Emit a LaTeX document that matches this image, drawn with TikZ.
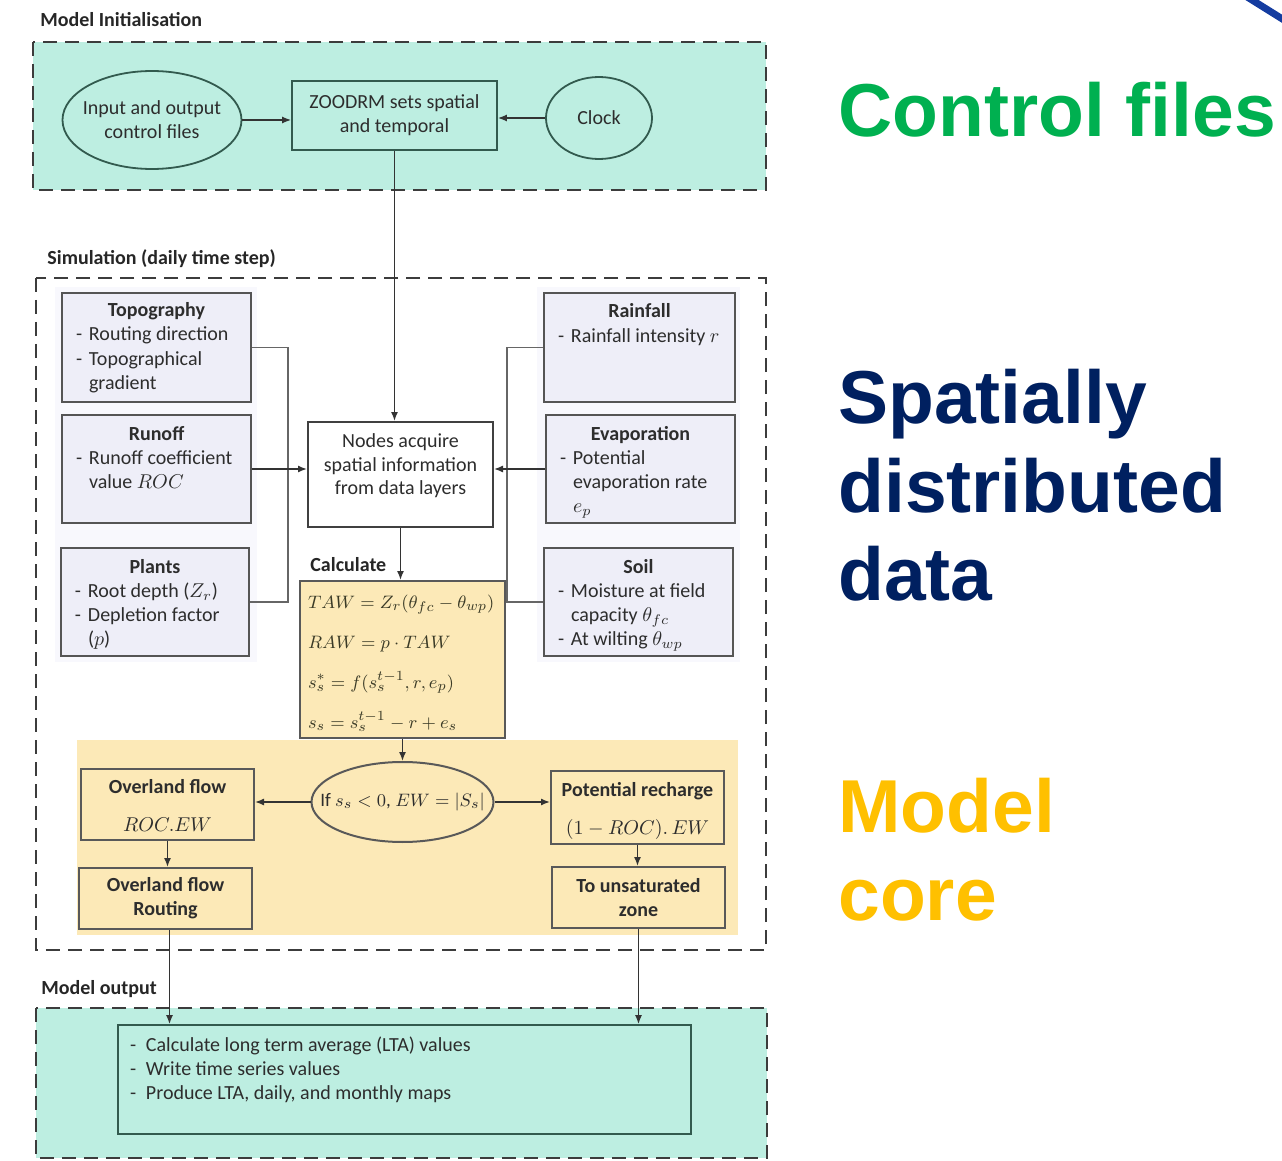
\documentclass[tikz,border=0pt]{standalone}
\usepackage{fontspec}
\setmainfont{Carlito}
\newfontfamily\bigfont{Liberation Sans}
\usetikzlibrary{arrows.meta,shapes.geometric}
\definecolor{mint}{RGB}{189,238,225}
\definecolor{lav}{RGB}{238,238,248}
\definecolor{lavpanel}{RGB}{248,248,253}
\definecolor{yel}{RGB}{252,233,183}
\definecolor{cgreen}{RGB}{0,176,80}
\definecolor{cnavy}{RGB}{0,32,96}
\definecolor{cgold}{RGB}{255,192,0}
\definecolor{cblue}{RGB}{20,60,160}
\definecolor{txt}{RGB}{45,45,45}
\definecolor{edge}{RGB}{85,85,85}
\definecolor{tealedge}{RGB}{50,90,78}
\definecolor{dashc}{RGB}{60,60,60}
\definecolor{mathc}{RGB}{58,58,38}
\newcommand\bx[4]{\parbox[c][#2][t]{#1}{\centering\rule{0pt}{#3}#4}}
\newcommand\ditem[2][6.5pt]{\par\hangindent=#1\hangafter=1\makebox[#1][l]{-}#2}
\newcommand\lst{\par\raggedright\leftskip=7pt\relax}
\begin{document}
\begin{tikzpicture}[x=0.5pt,y=-0.5pt,
  every node/.style={font=\fontsize{10}{12}\selectfont, text=txt},
  lbl/.style={anchor=base west, inner sep=0pt, font=\fontsize{10}{12}\selectfont\bfseries, text=black!85},
  lbox/.style={draw=edge, fill=lav, line width=1pt, inner sep=0pt},
  tbox/.style={draw=tealedge, line width=0.9pt, inner sep=0pt, align=center},
  ybox/.style={draw=black!65, fill=yel, line width=1pt, inner sep=0pt, align=center},
  dbox/.style={draw=dashc, line width=1pt, dash pattern=on 7pt off 4pt},
  conn/.style={draw=black!80, line width=0.7pt},
  arr/.style={conn, -{Latex[length=4.5pt,width=3.5pt]}},
  bus/.style={draw=black!60, line width=0.7pt},
  big/.style={anchor=base west, inner sep=0pt, font=\bigfont\bfseries\fontsize{37.5}{45}\selectfont}
]
\useasboundingbox (0,0) rectangle (1282,1161);
\fill[white] (0,0) rectangle (1282,1161);
\begin{scope}
\clip (0,0) rectangle (1282,1161);
\draw[cblue, line width=3.5pt] (1236,-10) -- (1300,30);
\end{scope}

% ---- Model initialisation
\node[lbl] (lInit) at (40,27) {Model Initialisation};
\filldraw[fill=mint, dbox] (33,42) rectangle (766,190);
\node[tbox, ellipse, fill=mint, inner xsep=-4pt, minimum width=89.5pt, minimum height=49pt] (io) at (152,120) {Input and output\\control files};
\node[tbox, fill=mint, minimum width=102.5pt, minimum height=34.5pt] (zoo) at (394.5,115.5) {ZOODRM sets spatial\\and temporal};
\node[tbox, ellipse, fill=mint, minimum width=53pt, minimum height=41pt] (clock) at (599,118) {Clock};
\draw[arr] (io.east) -- (io.east -| zoo.west);
\draw[arr] (clock.west) -- (clock.west -| zoo.east);

% ---- Simulation
\node[lbl] (lSim) at (47,264) {Simulation (daily time step)};
\draw[dbox] (36,278) rectangle (766,950);
\fill[lavpanel] (55,287) rectangle (257,662);
\fill[lavpanel] (537,287) rectangle (740,662);
\fill[yel] (77,740) rectangle (738,935);

\node[lbox] (topo) at (156.5,347.5) {\bx{94.5pt}{54.5pt}{12pt}{\textbf{Topography}\lst\ditem{Routing direction}\ditem{Topographical gradient}}};
\node[lbox] (runoff) at (156.5,469) {\bx{94.5pt}{54pt}{12.5pt}{\textbf{Runoff}\lst\ditem{Runoff coefficient value $ROC$}}};
\node[lbox] (plants) at (155,602) {\bx{94pt}{54pt}{12.5pt}{\textbf{Plants}\lst\ditem{Root depth ($Z_r$)}\ditem{Depletion factor\newline($p$)}}};

\node[lbox] (rain) at (639.5,347.5) {\bx{95.5pt}{54.5pt}{12.5pt}{\textbf{Rainfall}\lst\ditem{Rainfall intensity $r$}}};
\node[lbox] (evap) at (640.5,469) {\bx{94.5pt}{54pt}{12.5pt}{\textbf{Evaporation}\lst\ditem{Potential\newline evaporation rate\newline $e_p$}}};
\node[lbox] (soil) at (638.5,602) {\bx{94.5pt}{54pt}{12.5pt}{\textbf{Soil}\lst\ditem{Moisture at field\newline capacity $\theta_{fc}$}\ditem{At wilting $\theta_{wp}$}}};

\node[draw=black!75, fill=white, line width=1pt, inner sep=0pt] (nodes) at (400.5,474.5) {\bx{92.5pt}{52.5pt}{12.5pt}{Nodes acquire\\spatial information\\from data layers}};

\draw[arr] (zoo.south) -- (zoo.south |- nodes.north);

\coordinate (bl) at (288,0);
\draw[bus] (topo.east) -- (topo.east -| bl) -- (plants.east -| bl) -- (plants.east);
\draw[arr] (runoff.east) -- (runoff.east -| nodes.west);
\coordinate (br) at (507,0);
\draw[bus] (rain.west) -- (rain.west -| br) -- (soil.west -| br) -- (soil.west);
\draw[arr] (evap.west) -- (evap.west -| nodes.east);

\node[lbl] (lCalc) at (310,571) {Calculate};
\node[draw=black!65, fill=yel, line width=1pt, inner sep=0pt, text=mathc] (calc) at (402.5,659.5) {\parbox[c][78.5pt][t]{102.5pt}{\fontsize{9.3}{20}\selectfont\raggedright\leftskip=4pt\baselineskip=20pt\lineskiplimit=-20pt\lineskip=0pt
\rule{0pt}{13.5pt}$TAW = Z_r(\theta_{fc}-\theta_{wp})$\par
$RAW = p\cdot TAW$\par
$s_s^{*} = f(s_s^{t-1}, r, e_p)$\par
$s_s = s_s^{t-1} - r + e_s$\par}};
\draw[arr] (nodes.south) -- (nodes.south |- calc.north);

% ---- Model core
\node[ybox, ellipse, inner xsep=-13pt, minimum width=91pt, minimum height=40pt] (cond) at (402.5,802) {\fontsize{9.5}{12}\selectfont If $s_s<0$, $EW=|S_s|$};
\draw[arr] (calc.south) -- (cond.north);
\node[ybox] (ovl) at (167.5,804.5) {\bx{86.5pt}{35.5pt}{12pt}{\textbf{Overland flow}\\[7pt]$ROC.EW$}};
\node[ybox] (rech) at (637.5,807.5) {\bx{86.5pt}{36.5pt}{12.5pt}{\textbf{Potential recharge}\\[7pt]$(1-ROC).\,EW$}};
\node[ybox, minimum width=86.5pt, minimum height=30.5pt, font=\fontsize{10}{12}\selectfont\bfseries] (rout) at (165.5,898.5) {Overland flow\\Routing};
\node[ybox, minimum width=86.5pt, minimum height=30.5pt, font=\fontsize{10}{12}\selectfont\bfseries] (unsat) at (638.5,897.5) {To unsaturated\\zone};
\draw[arr] (cond.west) -- (cond.west -| ovl.east);
\draw[arr] (cond.east) -- (cond.east -| rech.west);
\draw[arr] (ovl.south) -- (ovl.south |- rout.north);
\draw[arr] (rech.south) -- (rech.south |- unsat.north);

% ---- Model output
\node[lbl] (lOut) at (41,994) {Model output};
\filldraw[fill=mint, dbox] (36,1008) rectangle (767,1158);
\node[tbox, fill=mint] (out) at (404.5,1079.5) {\parbox[c][54.5pt][t]{286.5pt}{\raggedright\leftskip=6pt\relax
\ditem[8pt]{\rule{0pt}{13pt}Calculate long term average (LTA) values}\ditem[8pt]{Write time series values}\ditem[8pt]{Produce LTA, daily, and monthly maps}}};
\draw[arr] ([xshift=2pt]rout.south) -- ([xshift=2pt]rout.south |- out.north);
\draw[arr] (unsat.south) -- (unsat.south |- out.north);

% ---- Big labels
\node[big, text=cgreen] (ctl) at (838,137) {Control files};
\node[big, text=cnavy] (sp1) at (838,423) {Spatially};
\node[big, text=cnavy] (sp2) at (838,512) {distributed};
\node[big, text=cnavy] (sp3) at (838,600) {data};
\node[big, text=cgold] (mc1) at (838,832) {Model};
\node[big, text=cgold] (mc2) at (838,920) {core};
\end{tikzpicture}
\end{document}
